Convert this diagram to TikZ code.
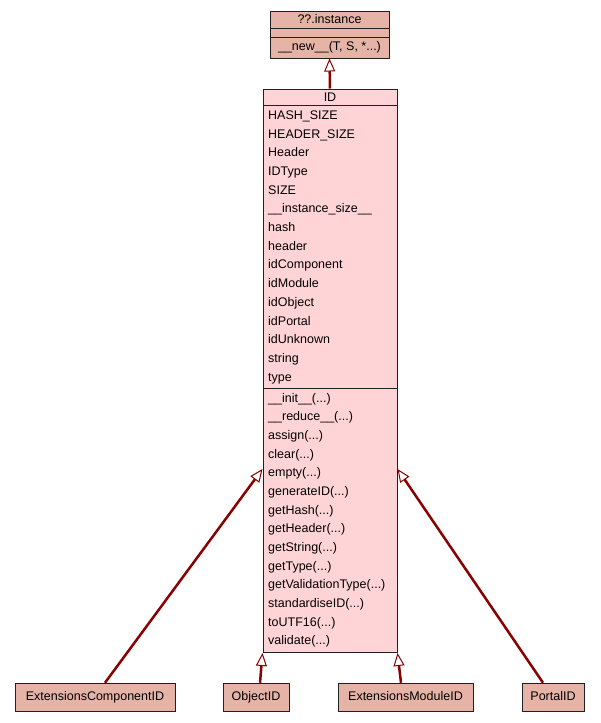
\documentclass[tikz,border=0pt]{standalone}
\usepackage{fontspec}
\setmainfont{Liberation Sans}
\usetikzlibrary{arrows.meta}

\definecolor{linkred}{HTML}{880000}
\definecolor{classfill}{HTML}{E6B4A6}
\definecolor{idfill}{HTML}{FFD4D7}
\definecolor{edgegray}{HTML}{202020}

\newcommand{\argdots}{(...)}

\tikzset{
  classbox/.style={draw=edgegray, line width=1pt, fill=classfill, inner sep=0pt},
  idbox/.style={draw=edgegray, line width=1pt, fill=idfill, inner sep=0pt},
  member/.style={anchor=base west, inner sep=0pt, font=\fontsize{12.5}{14}\selectfont},
  title/.style={anchor=base, inner sep=0pt, font=\fontsize{12.5}{14}\selectfont},
  inherit/.style={draw=linkred, line width=2.5pt,
    -{Triangle[fill=white, length=13pt, width=11pt, line width=1pt]}}
}

\begin{document}
\begin{tikzpicture}[x=1pt,y=-1pt]
  \useasboundingbox[fill=white] (0,0) rectangle (600,723);

  % metaclass box
  \node[classbox, minimum width=119pt, minimum height=47pt] (instance) at (329.5,34.5) {};
  \draw[edgegray, line width=1pt] (instance.west |- 0,28) -- (instance.east |- 0,28);
  \draw[edgegray, line width=1pt] (instance.west |- 0,37) -- (instance.east |- 0,37);
  \node[title] (instname) at (329.5,23.3) {??.instance};
  \node[title] (instnew) at (329.5,50.7) {\_\_new\_\_(T, S, *...)};

  % ID class
  \node[idbox, minimum width=134pt, minimum height=563.5pt] (ID) at (330,370.75) {};
  \draw[edgegray, line width=1pt] (ID.west |- 0,105) -- (ID.east |- 0,105);
  \draw[edgegray, line width=1pt] (ID.west |- 0,388.3) -- (ID.east |- 0,388.3);
  \node[title] (idname) at (330,101) {ID};

  \foreach \attr [count=\i from 0] in {HASH\_SIZE, HEADER\_SIZE, Header, IDType, SIZE,
      \_\_instance\_size\_\_, hash, header, idComponent, idModule, idObject,
      idPortal, idUnknown, string, type}
    \node[member] (attr\i) at (268,{119.3+\i*18.71}) {\attr};

  \foreach \meth [count=\i from 0] in {\_\_init\_\_, \_\_reduce\_\_,
      assign, clear, empty, generateID, getHash, getHeader, getString,
      getType, getValidationType, standardiseID, toUTF16, validate}
    \node[member] (meth\i) at (268,{402+\i*18.69}) {\meth\argdots};

  % subclasses
  \node[classbox, minimum width=160pt, minimum height=28.5pt] (extcomp) at (95,697.5) {};
  \node[title] at (95,700) {ExtensionsComponentID};
  \node[classbox, minimum width=66pt, minimum height=28.5pt] (objid) at (256,697.5) {};
  \node[title] at (256,700) {ObjectID};
  \node[classbox, minimum width=135pt, minimum height=28.5pt] (extmod) at (405.5,697.5) {};
  \node[title] at (405.5,700) {ExtensionsModuleID};
  \node[classbox, minimum width=62pt, minimum height=28.5pt] (portal) at (553,697.5) {};
  \node[title] at (553,700) {PortalID};

  % inheritance
  \draw[inherit] (ID.north) -- (instance.south);
  \draw[inherit] (105,0 |- extcomp.north) -- (ID.west |- 0,469);
  \draw[inherit] (260,0 |- objid.north) -- (ID.south west);
  \draw[inherit] (401,0 |- extmod.north) -- (ID.south east);
  \draw[inherit] (543,0 |- portal.north) -- (ID.east |- 0,469);
\end{tikzpicture}
\end{document}
